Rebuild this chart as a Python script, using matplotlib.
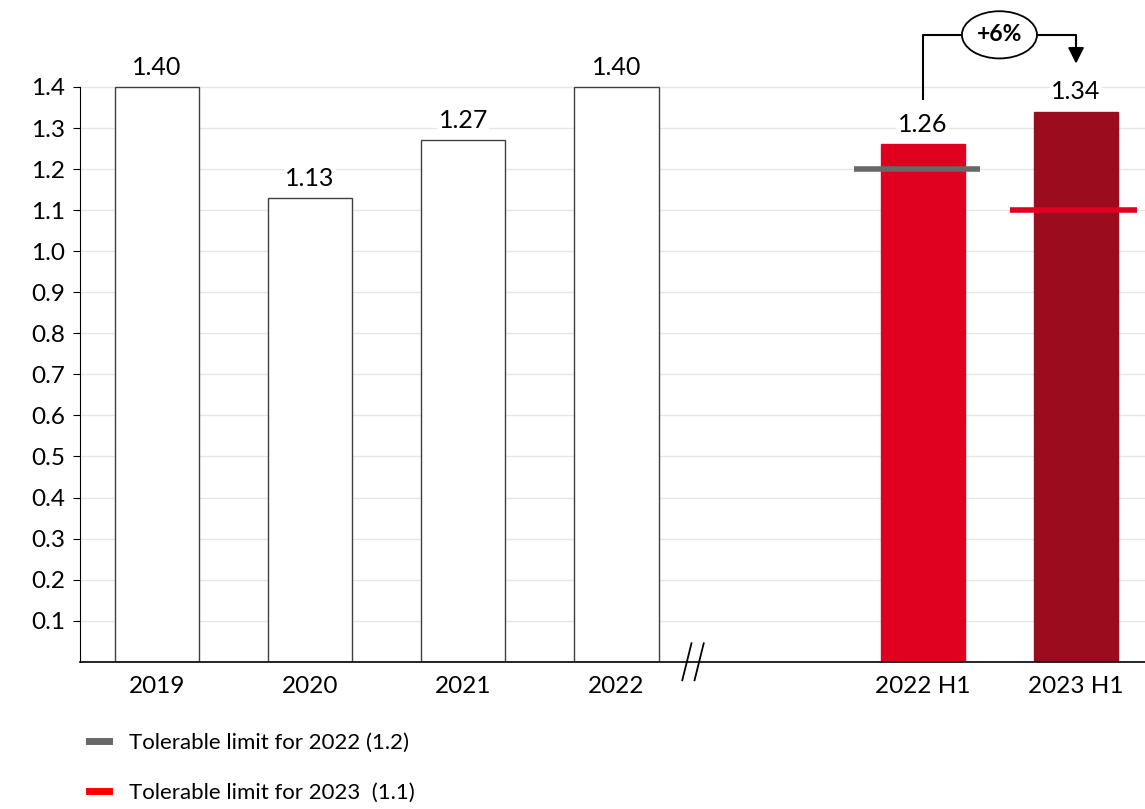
import matplotlib.pyplot as plt
from matplotlib.lines import Line2D
from matplotlib.patches import Ellipse

plt.rcParams["font.family"] = ["Lato", "DejaVu Sans"]

categories = ["2019", "2020", "2021", "2022", "2022 H1", "2023 H1"]
positions = [0, 1, 2, 3, 5, 6]
values = [1.40, 1.13, 1.27, 1.40, 1.26, 1.34]
bar_colors = ["white", "white", "white", "white", "#E00020", "#9A0C1E"]
edge_colors = ["#404040", "#404040", "#404040", "#404040", "#E00020", "#9A0C1E"]
y_ticks = [0.1, 0.2, 0.3, 0.4, 0.5, 0.6, 0.7, 0.8, 0.9, 1.0, 1.1, 1.2, 1.3, 1.4]

limit_2022 = 1.2
limit_2023 = 1.1
change_label = "+6%"

fig = plt.figure(figsize=(11.45, 8.09), dpi=100)
ax = fig.add_axes([0.07, 0.182, 0.93, 0.812])

ax.bar(positions, values, width=0.55, color=bar_colors,
       edgecolor=edge_colors, linewidth=1, zorder=2)

for x, v in zip(positions, values):
    ax.text(x, v + 0.02, f"{v:.2f}", ha="center", va="bottom",
            fontsize=18, zorder=4,
            bbox=dict(facecolor="white", edgecolor="none", pad=1))

# tolerable limits
ax.plot([4.55, 5.37], [limit_2022, limit_2022], color="#686868",
        lw=4, solid_capstyle="butt", zorder=3)
ax.plot([5.57, 6.40], [limit_2023, limit_2023], color="#E00020",
        lw=4, solid_capstyle="butt", zorder=3)

# change annotation
ytop = 1.527
ax.plot([5, 5, 5.26], [1.37, ytop, ytop], color="black", lw=1.5,
        clip_on=False, zorder=4)
ax.plot([5.74, 6, 6], [ytop, ytop, 1.48], color="black", lw=1.5,
        clip_on=False, zorder=4)
ax.annotate("", xy=(6, 1.45), xytext=(6, 1.495),
            arrowprops=dict(arrowstyle="-|>", color="black", lw=1.5,
                            mutation_scale=24),
            annotation_clip=False)
ax.add_patch(Ellipse((5.5, ytop), 0.49, 0.115, facecolor="white",
                     edgecolor="black", lw=1.3, clip_on=False, zorder=5))
ax.text(5.5, ytop, change_label, ha="center", va="center", fontsize=16.5,
        fontweight="bold", zorder=6)

# axis break
for dx in (-0.04, 0.04):
    ax.plot([3.5 + dx - 0.03, 3.5 + dx + 0.03], [-0.045, 0.045],
            color="black", lw=1.3, clip_on=False, zorder=5)

ax.set_xlim(-0.5, 6.45)
ax.set_ylim(0, 1.6)
ax.set_xticks(positions)
ax.set_xticklabels(categories, fontsize=17.5)
ax.set_yticks(y_ticks)
ax.set_yticklabels([f"{t:.1f}" for t in y_ticks], fontsize=17.5)
ax.tick_params(axis="x", length=0, pad=10)
ax.tick_params(axis="y", length=5, direction="out", color="black", pad=6)

ax.grid(axis="y", color="#e6e6e6", lw=1, zorder=0)
ax.set_axisbelow(True)
for s in ("top", "right"):
    ax.spines[s].set_visible(False)
ax.spines["left"].set_bounds(0, 1.4)
ax.spines["left"].set_color("black")
ax.spines["bottom"].set_color("black")
ax.spines["bottom"].set_linewidth(1.2)

handles = [
    Line2D([], [], color="#686868", lw=5),
    Line2D([], [], color="#FF0000", lw=5),
]
labels = ["Tolerable limit for 2022 (1.2)", "Tolerable limit for 2023  (1.1)"]
fig.legend(handles, labels, loc="upper left", bbox_to_anchor=(0.07, 0.105),
           frameon=False, fontsize=16, handlelength=0.9, handletextpad=0.9,
           labelspacing=1.35, borderaxespad=0)

fig.savefig("out.png", dpi=100)
